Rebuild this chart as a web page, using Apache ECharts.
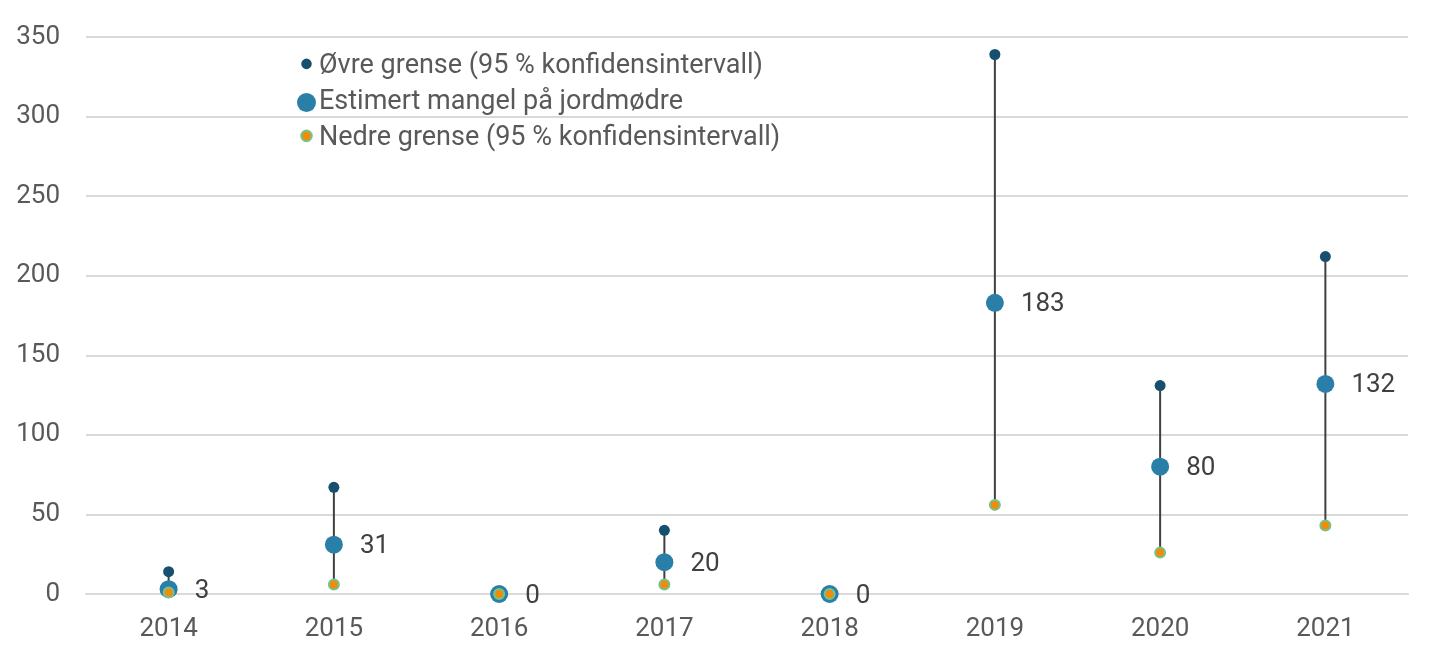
<!DOCTYPE html>
<html><head><meta charset="utf-8">
<script src="https://cdn.jsdelivr.net/npm/echarts@6/dist/echarts.min.js"></script>
<style>html,body{margin:0;padding:0;background:#fff}#c{width:1429px;height:661px}</style>
</head><body><div id="c"></div>
<script>
const years = ['2014','2015','2016','2017','2018','2019','2020','2021'];
const upper = [14, 67, 0, 40, 0, 339, 131, 212];
const estimate = [3, 31, 0, 20, 0, 183, 80, 132];
const lower = [1, 6, 0, 6, 0, 56, 26, 43];
const yTicks = [0, 50, 100, 150, 200, 250, 300, 350];

const chart = echarts.init(document.getElementById('c'));
const font = 'Roboto';
const smallIcon = 'path://M0,0 L0.001,0 Z M18,18 L18.001,18 Z M4,6.5 A5,5 0 1,0 14,6.5 A5,5 0 1,0 4,6.5 Z';
chart.setOption({
  animation: false,
  textStyle: {fontFamily: font},
  grid: {left: 86, right: 21, top: 37, bottom: 67},
  legend: {
    orient: 'vertical', left: 291, top: 48, itemGap: 9, itemWidth: 19, itemHeight: 19,
    textStyle: {fontSize: 27, color: '#595959', fontFamily: font, padding: [0,0,0,-2]},
    data: [
      {name: 'Øvre grense (95 % konfidensintervall)', icon: smallIcon},
      {name: 'Estimert mangel på jordmødre', icon: 'circle'},
      {name: 'Nedre grense (95 % konfidensintervall)', icon: smallIcon}
    ]
  },
  xAxis: {
    type: 'category', data: years, boundaryGap: true,
    axisLine: {lineStyle: {color: '#d9d9d9', width: 2}},
    axisTick: {show: false},
    axisLabel: {fontSize: 26, color: '#595959', margin: 22}
  },
  yAxis: {
    type: 'value', min: yTicks[0], max: yTicks[yTicks.length - 1], interval: 50,
    axisLabel: {fontSize: 26, color: '#595959', margin: 26},
    splitLine: {lineStyle: {color: '#d9d9d9', width: 2}},
    axisLine: {show: false}, axisTick: {show: false}
  },
  series: [
    {
      type: 'custom', name: 'range', silent: true,
      data: years.map((y, i) => [i, lower[i], upper[i]]),
      renderItem: function (params, api) {
        const a = api.coord([api.value(0), api.value(1)]);
        const b = api.coord([api.value(0), api.value(2)]);
        return {type: 'line', shape: {x1: a[0], y1: a[1], x2: b[0], y2: b[1]},
          style: {stroke: '#404040', lineWidth: 2}};
      },
      z: 1
    },
    {
      type: 'scatter', name: 'Øvre grense (95 % konfidensintervall)', data: upper,
      symbolSize: 11, itemStyle: {color: '#174f6e', opacity: 1}, z: 2
    },
    {
      type: 'scatter', name: 'Estimert mangel på jordmødre', data: estimate,
      symbolSize: 18, itemStyle: {color: '#2a7fa8', opacity: 1}, z: 3,
      label: {show: true, position: 'right', distance: 17, offset: [0, 2], fontSize: 26, color: '#404040',
        formatter: p => String(p.value)}
    },
    {
      type: 'scatter', name: 'Nedre grense (95 % konfidensintervall)', data: lower,
      symbolSize: 10, itemStyle: {color: '#ef8d0b', borderColor: '#72c490', borderWidth: 2, opacity: 1}, z: 4
    }
  ]
});
</script></body></html>
